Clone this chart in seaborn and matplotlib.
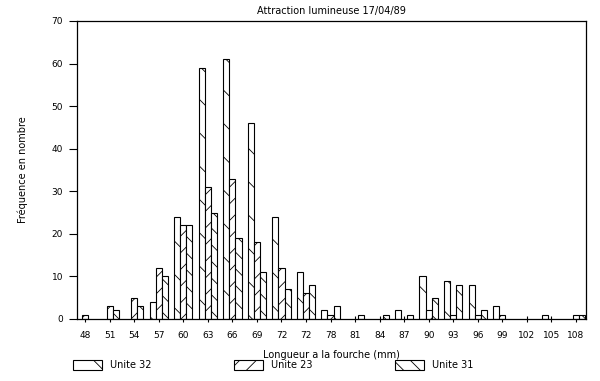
import matplotlib
matplotlib.use("Agg")
import matplotlib.pyplot as plt
import matplotlib.patches as mpatches
import seaborn as sns
import pandas as pd

# Length classes (mm) and tick labels as printed (the 10th label is printed "72")
classes = [48, 51, 54, 57, 60, 63, 66, 69, 72, 75, 78, 81, 84, 87, 90, 93, 96, 99, 102, 105, 108]
tick_labels = ['48', '51', '54', '57', '60', '63', '66', '69', '72', '72', '78',
               '81', '84', '87', '90', '93', '96', '99', '102', '105', '108']

unite_32 = [0, 0, 0, 4, 24, 59, 61, 46, 24, 11, 2, 0, 0, 2, 10, 9, 8, 3, 0, 1, 0]
unite_23 = [1, 3, 5, 12, 22, 31, 33, 18, 12, 6, 1, 0, 0, 0, 2, 1, 1, 1, 0, 0, 1]
unite_31 = [0, 2, 3, 10, 22, 25, 19, 11, 7, 8, 3, 1, 1, 1, 5, 8, 2, 0, 0, 0, 1]

units = ['Unite 32', 'Unite 23', 'Unite 31']
hatches = ['\\', '//', '\\\\']

rows = []
for name, vals in zip(units, [unite_32, unite_23, unite_31]):
    for c, v in zip(classes, vals):
        rows.append({'classe': c, 'unite': name, 'n': v})
df = pd.DataFrame(rows)

sns.set_style("white")
plt.rcParams['font.family'] = ['DejaVu Sans']
plt.rcParams['hatch.linewidth'] = 0.6
for k in ['text.color', 'axes.labelcolor', 'xtick.color', 'ytick.color']:
    plt.rcParams[k] = 'black'

fig = plt.figure(figsize=(6.0, 3.81), dpi=100)
ax = fig.add_axes([77/600, 1 - 319/381, (586-77)/600, (319-21)/381])

sns.barplot(data=df, x='classe', y='n', hue='unite', hue_order=units,
            order=classes, palette=['white'] * 3, width=0.75,
            edgecolor='black', linewidth=0.8, legend=False, ax=ax,
            errorbar=None, saturation=1)

for cont, h in zip(ax.containers, hatches):
    for bar in cont:
        bar.set_hatch(h)
        if bar.get_height() == 0:
            bar.set_visible(False)

ax.set_xlim(-0.33, 20.41)
ax.set_ylim(0, 70)
ax.set_yticks(range(0, 71, 10))
ax.set_xticks(range(len(classes)))
ax.set_xticklabels(tick_labels, fontsize=6.5)
ax.tick_params(axis='y', labelsize=6.5, direction='out', length=6, width=0.8, pad=4, left=True)
ax.tick_params(axis='x', direction='inout', length=5, width=0.8, pad=6, bottom=True)

for s in ax.spines.values():
    s.set_visible(True)
    s.set_color('black')
    s.set_linewidth(0.9)

ax.set_xlabel('Longueur a la fourche (mm)', fontsize=7, labelpad=7.5)
ax.set_ylabel('Fréquence en nombre', fontsize=7, labelpad=17)
ax.set_title('Attraction lumineuse 17/04/89', fontsize=7, pad=5)

handles = [mpatches.Patch(facecolor='white', edgecolor='black', hatch=h, linewidth=0.8, label=u)
           for u, h in zip(units, hatches)]
fig.legend(handles=handles, loc='upper left', bbox_to_anchor=(73/600, 1 - 360/381),
           ncol=3, frameon=False, fontsize=7, handlelength=3.0, handleheight=1.2,
           handletextpad=0.8, columnspacing=8.5, borderaxespad=0, borderpad=0)

fig.savefig('out.png', dpi=100)
